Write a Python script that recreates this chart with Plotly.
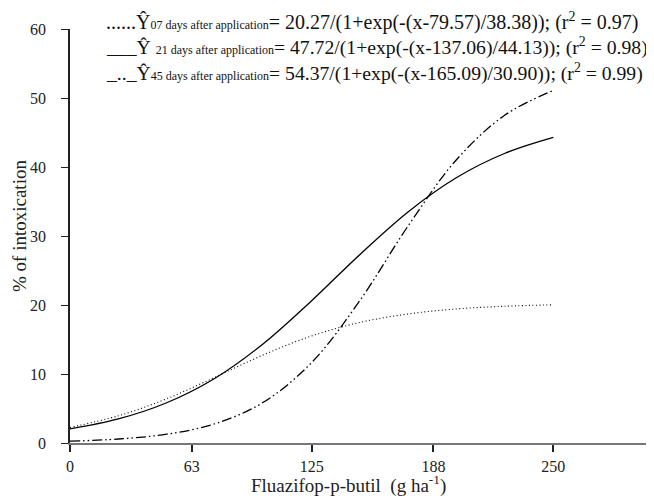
import plotly.graph_objects as go

dose = [0, 25, 50, 75, 100, 125, 150, 175, 200, 225, 250]
d07 = [2.26, 3.94, 6.41, 9.53, 12.77, 15.52, 17.48, 18.71, 19.43, 19.82, 20.03]
d21 = [2.05, 3.49, 5.83, 9.39, 14.39, 20.62, 27.33, 33.53, 38.48, 41.99, 44.29]
d45 = [0.26, 0.58, 1.28, 2.79, 5.90, 11.67, 20.67, 31.51, 41.09, 47.53, 51.09]

xticks = [0, 63, 125, 188, 250]
yticks = [0, 10, 20, 30, 40, 50, 60]

SUB = '<span style="font-size:12px">{}</span>'
legend_lines = [
    "......Ŷ" + SUB.format("07 days after application") + "= 20.27/(1+exp(-(x-79.57)/38.38)); (r<sup>2</sup> = 0.97)",
    "___Ŷ " + SUB.format("21 days after application") + "= 47.72/(1+exp(-(x-137.06)/44.13)); (r<sup>2</sup> = 0.98)",
    "_.._Ŷ" + SUB.format("45 days after application") + "= 54.37/(1+exp(-(x-165.09)/30.90)); (r<sup>2</sup> = 0.99)",
]
legend_sizes = [20, 19.7, 19.7]

FONT = "Liberation Serif, Times New Roman, Times, serif"

fig = go.Figure()
fig.add_trace(go.Scatter(x=dose, y=d07, mode="lines", line=dict(color="black", width=1.1, dash="1px,2.5px", shape="spline")))
fig.add_trace(go.Scatter(x=dose, y=d21, mode="lines", line=dict(color="black", width=1.3, shape="spline")))
fig.add_trace(go.Scatter(x=dose, y=d45, mode="lines", line=dict(color="black", width=1.3, dash="10px,3px,1.5px,3px,1.5px,3px", shape="spline")))

# page has an 8px body margin
OFF = 8
W, H = 654 - OFF, 496 - OFF
L, T = 70 - OFF, 29 - OFF
R = W - (650 - OFF)
B = H - (443 - OFF)
pw = W - L - R
ph = H - T - B


def px(xp):
    return (xp - 70) / pw


def py(yp):
    return (443 - yp) / ph


anns = []
for txt, yp, fs in zip(legend_lines, [22, 47, 72], legend_sizes):
    anns.append(dict(text=txt, xref="paper", yref="paper", x=px(104), y=py(yp),
                     xanchor="left", yanchor="middle", showarrow=False,
                     font=dict(family=FONT, size=fs, color="#111")))
anns.append(dict(text="Fluazifop-p-butil  (g ha<sup>-1</sup>)", xref="paper", yref="paper",
                 x=px(348), y=py(484), xanchor="center", yanchor="middle", showarrow=False,
                 font=dict(family=FONT, size=19, color="#222")))
anns.append(dict(text="% of intoxication", xref="paper", yref="paper", textangle=-90,
                 x=px(19), y=py(226), xanchor="center", yanchor="middle", showarrow=False,
                 font=dict(family=FONT, size=19, color="#222")))

fig.update_layout(
    width=W, height=H, margin=dict(l=L, r=R, t=T, b=B, autoexpand=False),
    paper_bgcolor="white", plot_bgcolor="white", showlegend=False,
    font=dict(family=FONT, size=16, color="#222"),
    annotations=anns,
    xaxis=dict(range=[0, 300], tickvals=xticks, ticks="outside", ticklen=7, tickwidth=1.5, tickcolor="#222",
               showline=True, linecolor="#777", linewidth=2, showgrid=False, zeroline=False, automargin=False,
               ticklabelstandoff=1,
               tickfont=dict(family=FONT, size=16, color="#222")),
    yaxis=dict(range=[0, 60], tickvals=yticks, ticks="outside", ticklen=7, tickwidth=1.2, tickcolor="#222",
               showline=True, linecolor="#222", linewidth=1.5, showgrid=False, zeroline=False, automargin=False,
               ticklabelstandoff=12,
               tickfont=dict(family=FONT, size=16, color="#222")),
)

fig.write_html("out.html")
